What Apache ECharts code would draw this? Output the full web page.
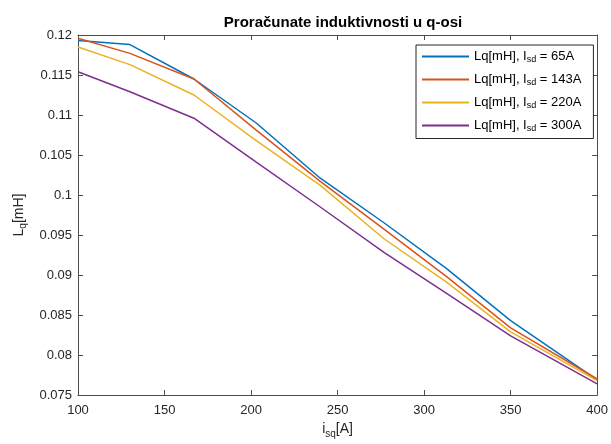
<!DOCTYPE html>
<html>
<head>
<meta charset="utf-8">
<script src="https://cdn.jsdelivr.net/npm/echarts@6/dist/echarts.min.js"></script>
<style>
  html, body { margin: 0; padding: 0; background: #fff; }
  #chart { width: 611px; height: 444px; }
</style>
</head>
<body>
<div id="chart"></div>
<script>
// struja i_sq [A]
var isq = [100, 130, 167, 203, 240, 277, 313, 350, 400];
// Lq [mH] za razlicite I_sd
var lq65  = [0.1193, 0.1188, 0.1145, 0.1090, 0.1021, 0.0965, 0.0908, 0.0843, 0.0769];
var lq143 = [0.1196, 0.1177, 0.1145, 0.1081, 0.1017, 0.0957, 0.0898, 0.0834, 0.0770];
var lq220 = [0.1185, 0.1163, 0.1125, 0.1068, 0.1012, 0.0945, 0.0891, 0.0829, 0.0768];
var lq300 = [0.1154, 0.1129, 0.1096, 0.1041, 0.0985, 0.0928, 0.0877, 0.0824, 0.0764];
var isdLabels = ['65A', '143A', '220A', '300A'];
var xTicks = [100, 150, 200, 250, 300, 350, 400];
var yTicks = [0.075, 0.08, 0.085, 0.09, 0.095, 0.1, 0.105, 0.11, 0.115, 0.12];

var colors = ['#0072BD', '#D95319', '#EDB120', '#7E2F8E'];
var font = 'Liberation Sans, Arial, Helvetica, sans-serif';
var axisCol = '#4d4d4d';
var txtCol = '#262626';

function pairs(ys) {
  return isq.map(function (x, i) { return [x, ys[i]]; });
}

var allSeries = [lq65, lq143, lq220, lq300];
var names = isdLabels.map(function (l) { return 'Lq[mH], I_sd = ' + l; });

var myChart = echarts.init(document.getElementById('chart'));

var axisBase = {
  axisLine: { show: true, lineStyle: { color: axisCol, width: 1 } },
  axisTick: { show: true, inside: true, length: 5, lineStyle: { color: axisCol } },
  splitLine: { show: false }
};

myChart.setOption({
  animation: false,
  backgroundColor: '#fff',
  color: colors,
  title: {
    text: 'Proračunate induktivnosti u q-osi',
    left: 338, top: 10, textAlign: 'center',
    textStyle: { fontFamily: font, fontSize: 15, fontWeight: 'bold', color: '#000' }
  },
  grid: { left: 78, right: 13, top: 35, bottom: 49 },
  legend: {
    orient: 'vertical',
    left: 416, top: 45,
    padding: [5, 12, 5, 5],
    itemGap: 8.5,
    itemWidth: 47, itemHeight: 14,
    borderColor: '#262626', borderWidth: 1,
    backgroundColor: '#fff',
    itemStyle: { opacity: 0 },
    data: names,
    formatter: function (n) {
      var idx = names.indexOf(n);
      return '{a|Lq[mH], I}{s|sd}{a| = ' + isdLabels[idx] + '}';
    },
    textStyle: {
      fontFamily: font, color: '#000',
      rich: {
        a: { fontFamily: font, fontSize: 13, color: '#000' },
        s: { fontFamily: font, fontSize: 9, color: '#000', padding: [7, 0, 0, 0] }
      }
    }
  },
  xAxis: [
    Object.assign({}, axisBase, {
      type: 'value', min: xTicks[0], max: xTicks[xTicks.length - 1], interval: 50,
      position: 'bottom',
      axisLabel: { fontFamily: font, fontSize: 13, color: txtCol, margin: 9 },
      name: '{a|i}{s|sq}{a|[A]}',
      nameLocation: 'middle', nameGap: 25,
      nameTextStyle: {
        rich: {
          a: { fontFamily: font, fontSize: 14, color: txtCol },
          s: { fontFamily: font, fontSize: 10, color: txtCol, padding: [9, 0, 0, 0] }
        }
      }
    }),
    Object.assign({}, axisBase, {
      type: 'value', min: xTicks[0], max: xTicks[xTicks.length - 1], interval: 50,
      position: 'top', axisLabel: { show: false }
    })
  ],
  yAxis: [
    Object.assign({}, axisBase, {
      type: 'value', min: yTicks[0], max: yTicks[yTicks.length - 1], interval: 0.005,
      position: 'left',
      axisLabel: {
        fontFamily: font, fontSize: 13, color: txtCol, margin: 6,
        formatter: function (v) { return String(+v.toFixed(3)); }
      },
      name: '{a|L}{s|q}{a|[mH]}',
      nameLocation: 'middle', nameGap: 48, nameRotate: 90,
      nameTextStyle: {
        rich: {
          a: { fontFamily: font, fontSize: 14, color: txtCol },
          s: { fontFamily: font, fontSize: 10, color: txtCol, padding: [9, 0, 0, 0] }
        }
      }
    }),
    Object.assign({}, axisBase, {
      type: 'value', min: yTicks[0], max: yTicks[yTicks.length - 1], interval: 0.005,
      position: 'right', axisLabel: { show: false }
    })
  ],
  series: allSeries.map(function (ys, i) {
    return {
      name: names[i],
      type: 'line',
      xAxisIndex: 0, yAxisIndex: 0,
      symbol: 'none',
      lineStyle: { width: 1.5, color: colors[i] },
      data: pairs(ys)
    };
  })
});
</script>
</body>
</html>
